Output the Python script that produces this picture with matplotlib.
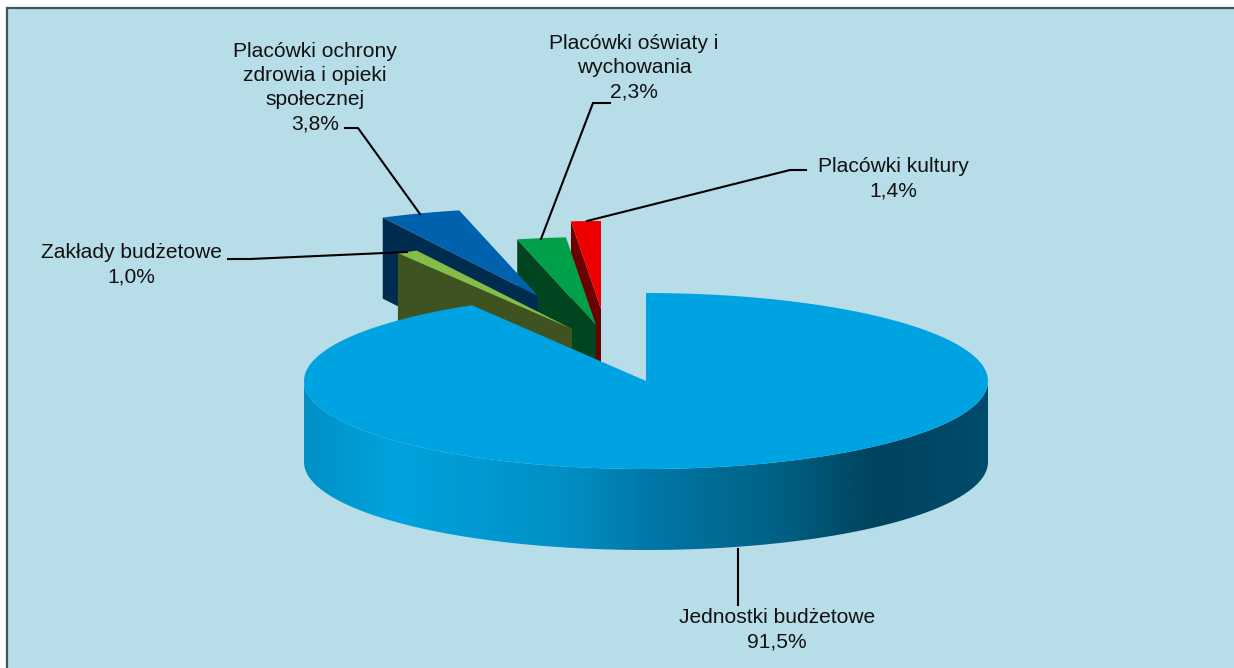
import numpy as np
import matplotlib
matplotlib.use("Agg")
import matplotlib.pyplot as plt
from matplotlib.colors import LinearSegmentedColormap
from matplotlib.patches import Polygon, Rectangle

plt.rcParams['font.family'] = ['Liberation Sans', 'DejaVu Sans']

# dane z wykresu, kolejnosc zgodna z ruchem wskazowek zegara od godziny 12
categories = ["Jednostki budżetowe", "Zakłady budżetowe",
              "Placówki ochrony\nzdrowia i opieki\nspołecznej",
              "Placówki oświaty i\nwychowania", "Placówki kultury"]
values = [91.5, 1.0, 3.8, 2.3, 1.4]

# srodki wycinkow po "wysunieciu", w pikselach
apex_x = [646, 572, 538, 596, 601]
apex_y = [381, 329, 296, 325, 309]
top_colors = ['#00A3E1', '#84BD48', '#0062AC', '#00A04A', '#EE0000']
side_colors = ['#004A68', '#3F5320', '#002D4F', '#00451F', '#6B0000']

label_x = [777, 131, 315, 634, 893]
label_y = [630, 265, 87.5, 67.5, 178.5]

rx = 342
ry = 88
depth = 81
bg_color = '#B7DDE8'


def arcPoints(cx, cy, start, stop):
    t = np.radians(np.linspace(start, stop, 200))
    return np.column_stack((cx + rx * np.sin(t), cy - ry * np.cos(t)))


def drawSmallSlice(ax, i, start, stop):
    cx, cy = apex_x[i], apex_y[i]
    arc = arcPoints(cx, cy, start, stop)
    # sciana ciecia po lewej stronie wycinka
    side = [arc[0], (cx, cy), (cx, cy + depth), (arc[0][0], arc[0][1] + depth)]
    ax.add_patch(Polygon(side, closed=True, fc=side_colors[i], ec='none', zorder=2))
    ax.add_patch(Polygon(np.vstack(([(cx, cy)], arc)), closed=True, fc=top_colors[i], ec='none', zorder=2))


def drawBigSlice(ax, i, start, stop):
    cx, cy = apex_x[i], apex_y[i]
    front = arcPoints(cx, cy, 90, 270)
    rim = np.vstack((front, front[::-1] + [0, depth]))
    rimPatch = Polygon(rim, closed=True, fc='none', ec='none', zorder=3)
    ax.add_patch(rimPatch)
    stops = [(0.0, '#0090C4'), (0.13, '#00A3E0'), (0.38, '#0090C4'), (0.5, '#0078A8'),
             (0.68, '#006388'), (0.84, '#00435D'), (1.0, '#004C6C')]
    cmap = LinearSegmentedColormap.from_list('rim', stops)
    gradient = np.linspace(0, 1, 512).reshape(1, -1)
    im = ax.imshow(gradient, cmap=cmap, aspect='auto', zorder=3,
                   extent=(cx - rx, cx + rx, cy + ry + depth, cy - ry))
    im.set_clip_path(rimPatch)
    arc = arcPoints(cx, cy, start, stop)
    ax.add_patch(Polygon(np.vstack(([(cx, cy)], arc)), closed=True, fc=top_colors[i], ec='none', zorder=4))


fig = plt.figure(figsize=(12.34, 6.68), dpi=100, facecolor='white')
ax = fig.add_axes([0, 0, 1, 1])
ax.axis('off')

ax.add_patch(Rectangle((7, 8), 1240, 670, fc=bg_color, ec='#3F5560', lw=1.6, zorder=1))

angles = np.cumsum([0] + values) / sum(values) * 360
# kolejnosc rysowania: od tylu do przodu
drawSmallSlice(ax, 4, angles[4], angles[5])
drawSmallSlice(ax, 3, angles[3], angles[4])
drawSmallSlice(ax, 2, angles[2], angles[3])
drawSmallSlice(ax, 1, angles[1], angles[2])
drawBigSlice(ax, 0, angles[0], angles[1])

ax.set_xlim(0, 1234)
ax.set_ylim(668, 0)

# linie odniesienia
leaders = [([738, 738], [549, 605]),
           ([228, 250, 407], [259, 259, 252]),
           ([345, 358, 420], [128, 128, 214]),
           ([610, 593, 541], [103, 103, 239]),
           ([806, 790, 587], [170, 170, 221])]
for xs, ys in leaders:
    ax.plot(xs, ys, color='black', lw=1.5, solid_joinstyle='miter', zorder=5)

for i in range(len(categories)):
    text = categories[i] + "\n" + f"{values[i]:.1f}".replace('.', ',') + "%"
    ax.text(label_x[i], label_y[i], text, ha='center', va='center', fontsize=15.1,
            linespacing=1.34, color='#111111', zorder=6)

fig.savefig('out.png', dpi=100, facecolor='white')
